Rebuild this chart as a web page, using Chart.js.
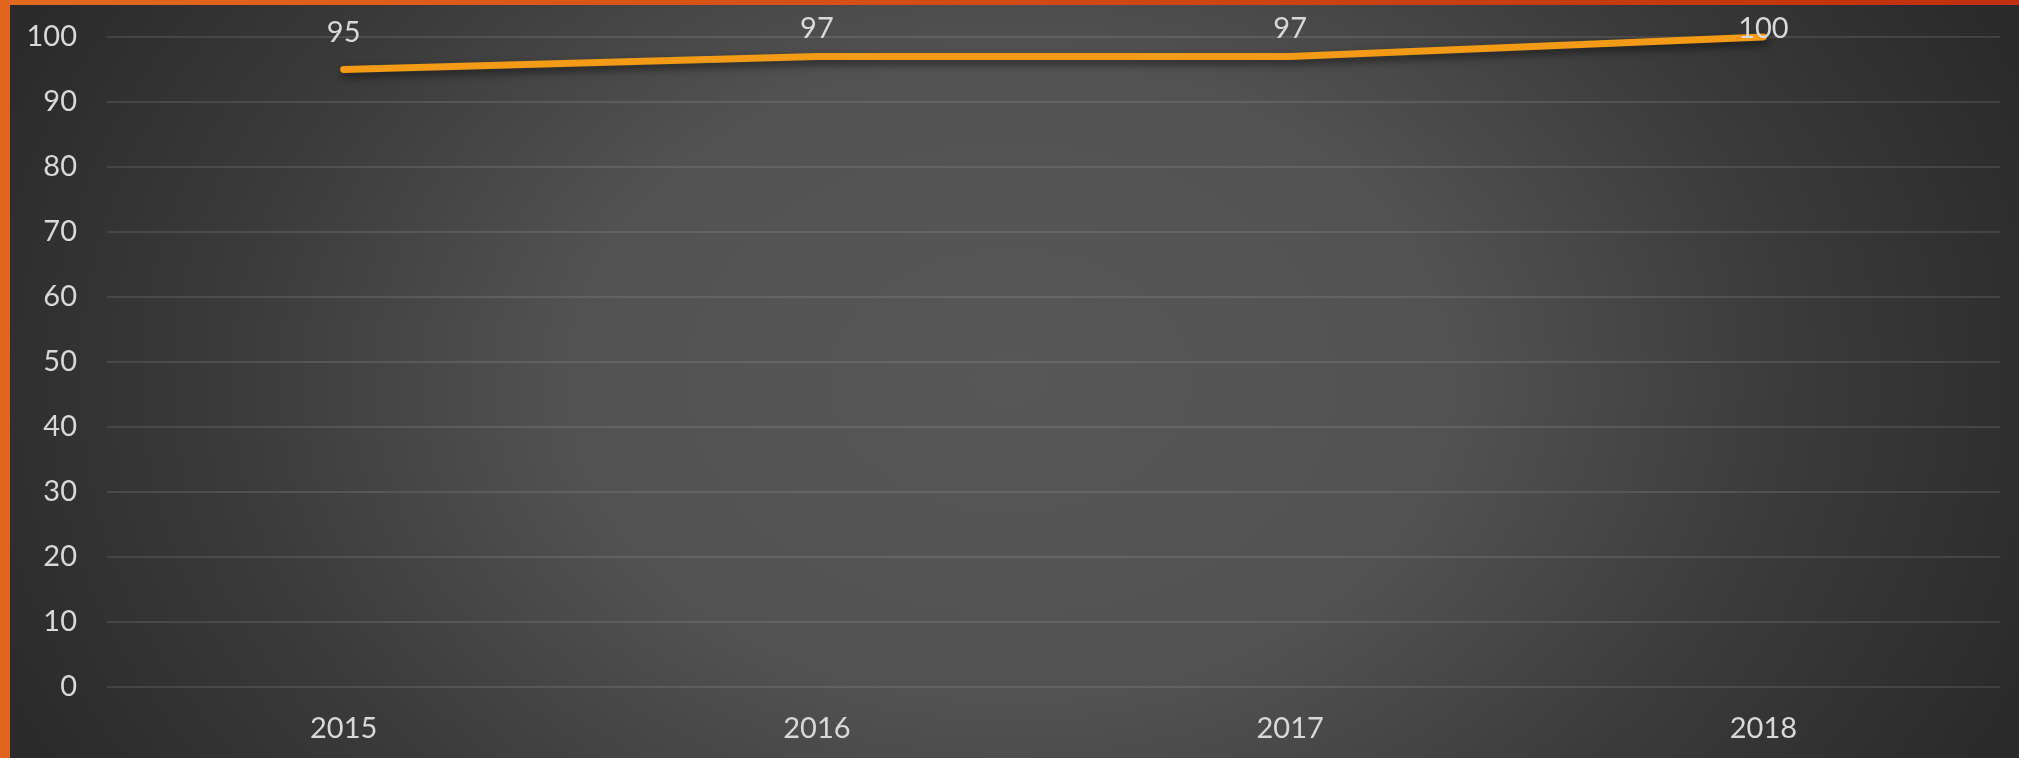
<!DOCTYPE html>
<html>
<head>
<meta charset="utf-8">
<script src="https://cdn.jsdelivr.net/npm/chart.js@4/dist/chart.umd.min.js"></script>
<style>
  html, body { margin: 0; padding: 0; width: 2019px; height: 758px; overflow: hidden; }
  #bg {
    position: absolute; left: 0; top: 0; width: 2019px; height: 758px;
    background: radial-gradient(ellipse 1100px 800px at 1010px 380px, #575757 0%, #525252 40%, #3a3a3a 72%, #2a2a2a 100%);
  }
  #topbar { position: absolute; left: 0; top: 0; width: 2019px; height: 5px;
    background: linear-gradient(to right, #e4691f, #d24a16 50%, #c0300c); }
  #leftbar { position: absolute; left: 0; top: 0; width: 10px; height: 758px; background: #e2641e; }
  #wrap { position: absolute; left: 0; top: 0; width: 2019px; height: 758px; }
</style>
</head>
<body>
<div id="bg"></div>
<div id="topbar"></div>
<div id="leftbar"></div>
<div id="wrap"><canvas id="c" width="2019" height="758"></canvas></div>
<script>
const categories = ['2015', '2016', '2017', '2018'];
const values = [95, 97, 97, 100];
const yTicks = [0, 10, 20, 30, 40, 50, 60, 70, 80, 90, 100];

const FONT = { family: 'Lato, "Open Sans", sans-serif', size: 29 };
const TEXT = '#d9d9d9';

const shadowPlugin = {
  id: 'lineShadow',
  beforeDatasetDraw(chart) {
    const ctx = chart.ctx;
    ctx.save();
    ctx.shadowColor = 'rgba(0,0,0,0.55)';
    ctx.shadowBlur = 8;
    ctx.shadowOffsetX = 2;
    ctx.shadowOffsetY = 4;
  },
  afterDatasetDraw(chart) {
    chart.ctx.restore();
  }
};

const labelPlugin = {
  id: 'valueLabels',
  afterDatasetsDraw(chart) {
    const ctx = chart.ctx;
    const meta = chart.getDatasetMeta(0);
    ctx.save();
    ctx.font = FONT.size + 'px ' + FONT.family;
    ctx.fillStyle = TEXT;
    ctx.textAlign = 'center';
    ctx.textBaseline = 'middle';
    meta.data.forEach((pt, i) => {
      const y = Math.max(pt.y - 37, 28.5);
      ctx.fillText(String(chart.data.datasets[0].data[i]), pt.x, y);
    });
    ctx.restore();
  }
};

new Chart(document.getElementById('c'), {
  type: 'line',
  data: {
    labels: categories,
    datasets: [{
      data: values,
      borderColor: '#f39a17',
      borderWidth: 7,
      borderCapStyle: 'round',
      borderJoinStyle: 'round',
      pointRadius: 0,
      pointHoverRadius: 0,
      tension: 0,
      fill: false,
      clip: false
    }]
  },
  options: {
    responsive: false,
    animation: false,
    events: [],
    layout: { padding: { top: 37, right: 19, left: 0, bottom: 0 } },
    plugins: { legend: { display: false }, tooltip: { enabled: false } },
    scales: {
      x: {
        offset: true,
        grid: { display: false, drawTicks: false },
        border: { display: false },
        ticks: { color: TEXT, font: FONT, padding: 24, maxRotation: 0 },
        afterFit(scale) { scale.height = 71; scale.paddingLeft = 0; scale.paddingRight = 0; }
      },
      y: {
        min: 0, max: 100,
        afterBuildTicks(scale) { scale.ticks = yTicks.map(v => ({ value: v })); },
        grid: { color: 'rgba(255,255,255,0.1)', lineWidth: 2, drawTicks: false },
        border: { display: false },
        ticks: { color: TEXT, font: FONT, padding: 30 },
        afterFit(scale) { scale.width = 107; scale.paddingTop = 0; scale.paddingBottom = 0; }
      }
    }
  },
  plugins: [shadowPlugin, labelPlugin]
});
</script>
</body>
</html>
